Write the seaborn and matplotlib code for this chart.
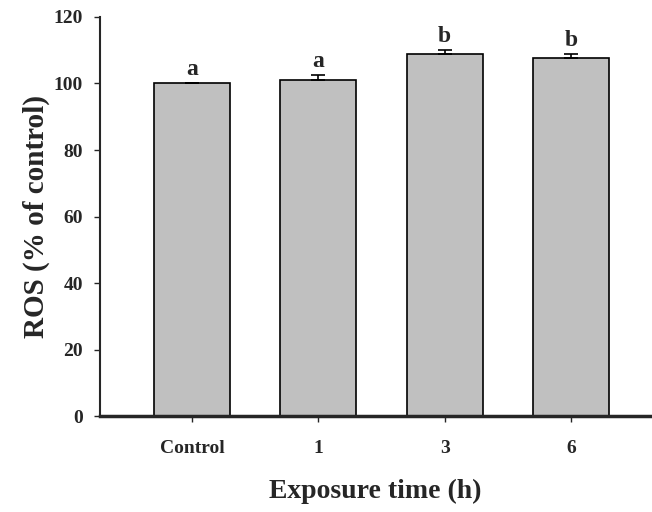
"""
ROS bar chart by exposure time
"""
import matplotlib
matplotlib.use("Agg")
import matplotlib.pyplot as plt
import pandas as pd
import seaborn as sns

groups = ["Control", "1", "3", "6"]
ros_mean = [100, 101.1, 109.0, 107.6]
ros_err = [0, 1.3, 1.1, 1.3]
letters = ["a", "a", "b", "b"]

df = pd.DataFrame({"group": groups, "ros": ros_mean})

sns.set_style("ticks")
plt.rcParams["font.family"] = ["Liberation Serif", "DejaVu Serif"]
plt.rcParams["font.weight"] = "bold"

fig = plt.figure(figsize=(6.52, 5.12), dpi=100)
ax = fig.add_axes([0.153, 0.187, 0.845, 0.78])

sns.barplot(data=df, x="group", y="ros", color="#c0c0c0", saturation=1,
            width=0.6, edgecolor="black", linewidth=1.2, ax=ax)

# one-sided error bars
ax.errorbar(range(len(groups)), ros_mean, yerr=[[0] * len(ros_err), ros_err],
            fmt="none", ecolor="black", elinewidth=1.2, capsize=5, capthick=1.2)

for i, (m, e, lab) in enumerate(zip(ros_mean, ros_err, letters)):
    ax.text(i, m + e + 2.4, lab, ha="center", va="baseline",
            fontsize=17, fontweight="bold")

ax.set_ylim(0, 120)
ax.set_yticks(range(0, 121, 20))
ax.set_xlim(-0.73, 3.63)
ax.set_xlabel("Exposure time (h)", fontsize=20, fontweight="bold", labelpad=16)
ax.set_ylabel("ROS (% of control)", fontsize=21, fontweight="bold", labelpad=3)
ax.tick_params(axis="both", labelsize=14, width=1, length=4, direction="out")
ax.tick_params(axis="y", pad=8)
ax.tick_params(axis="x", pad=13)
for t in ax.get_xticklabels() + ax.get_yticklabels():
    t.set_fontweight("bold")

sns.despine(ax=ax)
ax.spines["left"].set_linewidth(1.5)
ax.spines["bottom"].set_linewidth(2.5)

plt.savefig("out.png", dpi=100)
plt.close()
